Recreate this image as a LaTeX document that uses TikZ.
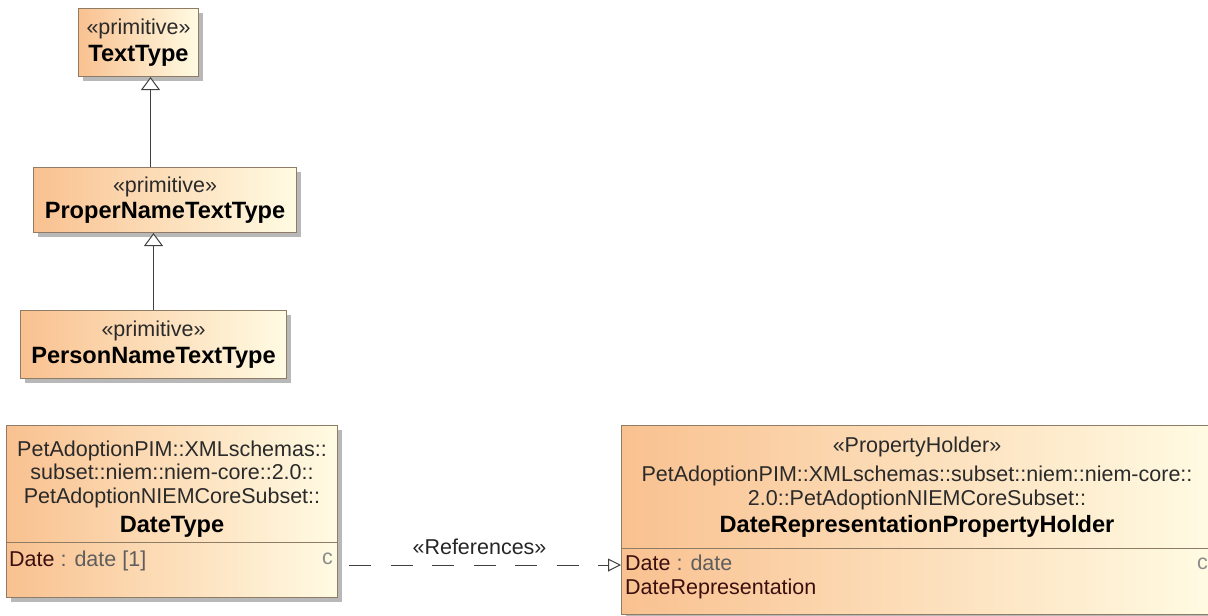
\documentclass[tikz,border=0pt]{standalone}
\usepackage{fontspec}
\setmainfont{Liberation Sans}
\usetikzlibrary{arrows.meta,positioning,shadows}
\definecolor{boxleft}{HTML}{F9C190}
\definecolor{boxright}{HTML}{FFFBE3}
\definecolor{boxline}{HTML}{8E7C64}
\definecolor{attrname}{HTML}{3C0F0F}
\definecolor{attrtype}{HTML}{5E5E5E}
\definecolor{stereo}{HTML}{2A2A2A}
\newcommand{\umlname}{\fontsize{23.6}{26}\selectfont\bfseries\color{black}}
\newcommand{\umltext}{\fontsize{21.5}{23.5}\selectfont}

\begin{document}
\begin{tikzpicture}[x=1pt, y=-1pt,
  umlbox/.style={rectangle, draw=boxline, line width=1pt, left color=boxleft, right color=boxright,
    inner sep=0pt, anchor=north west, align=center, font=\umltext, text=stereo,
    drop shadow={shadow xshift=4pt, shadow yshift=-4pt, fill=black!28, opacity=1}},
  attrtext/.style={anchor=north west, align=left, inner sep=0pt, font=\umltext, text=attrtype},
  marktext/.style={anchor=north east, inner sep=0pt, font=\umltext, text=black!45},
  gen/.style={-{Triangle[open, length=13pt, width=19pt, fill=white]}, line width=1pt, black!75},
  dep/.style={-{Triangle[open, length=13pt, width=13pt, fill=white]}, line width=1pt, black!75,
    dash pattern=on 22pt off 19.5pt, dash phase=30.5pt}
]
  \useasboundingbox (0,0) rectangle (1208,616);
  \clip (0,0) rectangle (1208,616);

  % primitive types
  \node[umlbox, minimum width=120, minimum height=68] (texttype) at (78,8)
    {«primitive»\\[3pt]{\umlname TextType}};
  \node[umlbox, minimum width=263, minimum height=65] (propername) at (33,167)
    {«primitive»\\[3pt]{\umlname ProperNameTextType}};
  \node[umlbox, minimum width=266, minimum height=68] (personname) at (20,310)
    {«primitive»\\[3pt]{\umlname PersonNameTextType}};

  % DateType class
  \node[umlbox, minimum width=331, minimum height=117] (datetype) at (6,425)
    {\rule{0pt}{26pt}PetAdoptionPIM::XMLschemas::\\subset::niem::niem-core::2.0::\\PetAdoptionNIEMCoreSubset::\\[6pt]{\umlname DateType}};
  \node[umlbox, minimum width=331, minimum height=55] (datetypeattrs) at (6,542) {};
  \node[attrtext] (dateattr) at ([xshift=3pt, yshift=-9pt]datetypeattrs.north west)
    {{\color{attrname}Date} : date [1]};
  \node[marktext] (datemark) at ([xshift=-5pt, yshift=-11pt]datetypeattrs.north east) {c};

  % property holder class
  \node[umlbox, minimum width=591, minimum height=123] (holder) at (621,425)
    {«PropertyHolder»\\[6pt]PetAdoptionPIM::XMLschemas::subset::niem::niem-core::\\2.0::PetAdoptionNIEMCoreSubset::\\[4pt]{\umlname DateRepresentationPropertyHolder}};
  \node[umlbox, minimum width=591, minimum height=66] (holderattrs) at (621,548) {};
  \node[attrtext] (holderattr) at ([xshift=4pt, yshift=-7pt]holderattrs.north west)
    {{\color{attrname}Date} : date\\{\color{attrname}DateRepresentation}};
  \node[marktext] (holdermark) at ([xshift=-5pt, yshift=-10pt]holderattrs.north east) {c};

  % generalizations
  \draw[gen] ([xshift=-14.5pt]propername.north) -- ([xshift=-14.5pt]propername.north |- texttype.south);
  \draw[gen] (personname.north) -- (personname.north |- propername.south);

  % dependency
  \draw[dep] ([yshift=-23pt]datetypeattrs.north east) -- ([yshift=-17pt]holderattrs.north west)
    node[midway, above=6pt, font=\umltext, text=black!85] (refslabel) {«References»};
\end{tikzpicture}
\end{document}
